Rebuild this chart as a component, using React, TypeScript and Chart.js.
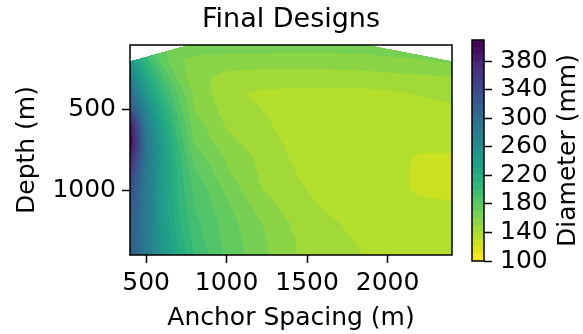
import React, { useEffect, useRef } from 'react';
import { Chart, registerables } from 'chart.js';
Chart.register(...registerables);

// ---- data ----
const spacings = [400, 500, 600, 700, 800, 1000, 1200, 1400, 1600, 1800, 2000, 2200, 2400];
const depths = [100, 200, 300, 400, 500, 600, 700, 800, 900, 1000, 1100, 1200, 1300, 1400];
const diameters = [
  [215, 190, 170, 165, 166, 167, 167, 166, 166, 166, 167, 168, 170],
  [245, 205, 175, 161, 157, 155, 154, 154, 154, 155, 157, 159, 162],
  [275, 225, 190, 167, 153, 147, 146, 146, 146, 146, 147, 148, 150],
  [305, 245, 205, 177, 158, 143, 138, 137, 137, 137, 138, 141, 143],
  [335, 265, 218, 185, 160, 146, 140.5, 135, 134, 134, 134, 136, 138],
  [390, 280, 230, 193, 165, 149, 143, 136, 134, 133.5, 133, 133, 134],
  [405, 290, 238, 200, 169, 153, 145, 138, 134, 132, 131.8, 131, 131],
  [380, 290, 242, 205, 176, 159, 148, 139.5, 134, 131.8, 131.2, 129.6, 129.5],
  [350, 285, 242, 207, 183, 161.5, 149.5, 141, 135, 132, 131.2, 129.4, 129],
  [335, 282, 240, 208, 188, 168, 151, 143, 137, 133, 131.3, 129.5, 129],
  [330, 282, 241, 210, 190, 172, 157, 145, 139.5, 135, 132.5, 131, 130.5],
  [325, 283, 243, 213, 193, 175, 161, 149.5, 142, 138, 134.5, 133, 132],
  [322, 284, 247, 217, 196, 176, 163, 151, 144, 139.5, 136, 134, 133],
  [320, 285, 250, 222, 200, 178, 164, 151, 145.5, 141, 137, 135, 134],
];
const topEdgeSpacing = [400, 760, 1880, 2400];
const topEdgeDepth = [200, 100, 100, 200];
const levels = [100, 110, 120, 130, 140, 150, 160, 170, 180, 190, 200, 210, 220, 230, 240, 250, 260, 270, 280, 290, 300, 310, 320, 330, 340, 350, 360, 370, 380, 390, 400, 410];
const xTicks = [500, 1000, 1500, 2000];
const yTicks = [500, 1000];
const cbTicks = [100, 140, 180, 220, 260, 300, 340, 380];

// ---- colormap (viridis anchors) ----
const vT = [0, 0.0625, 0.111, 0.125, 0.222, 0.25, 0.333, 0.375, 0.444, 0.5, 0.556, 0.625, 0.667, 0.75, 0.778, 0.875, 0.889, 0.9375, 1];
const vHex = ['#440154', '#471164', '#482878', '#472d7b', '#3e4989', '#3b528b', '#31688e', '#2c728e', '#26828e', '#21918c', '#1f9e89', '#28ae80', '#35b779', '#5ec962', '#6ece58', '#addc30', '#b5de2b', '#d8e219', '#fde725'];
const hexRgb = (h: string) => [parseInt(h.slice(1, 3), 16), parseInt(h.slice(3, 5), 16), parseInt(h.slice(5, 7), 16)];
const vRgb = vHex.map(hexRgb);
function viridis(t: number): number[] {
  t = Math.max(0, Math.min(1, t));
  let i = 0;
  while (i < vT.length - 2 && t > vT[i + 1]) i++;
  const f = (t - vT[i]) / (vT[i + 1] - vT[i]);
  return [0, 1, 2].map((k) => Math.round(vRgb[i][k] + (vRgb[i + 1][k] - vRgb[i][k]) * f));
}
const lo = levels[0], hi = levels[levels.length - 1];
const bandRgb = levels.slice(0, -1).map((l, i) => viridis(1 - ((l + levels[i + 1]) / 2 - lo) / (hi - lo)));
const bandCss = bandRgb.map((c) => `rgb(${c[0]},${c[1]},${c[2]})`);

function findIdx(arr: number[], v: number) {
  let i = 0;
  while (i < arr.length - 2 && v > arr[i + 1]) i++;
  return i;
}
function interp(s: number, d: number) {
  const i = findIdx(spacings, s), j = findIdx(depths, d);
  const fx = Math.max(0, Math.min(1, (s - spacings[i]) / (spacings[i + 1] - spacings[i])));
  const fy = Math.max(0, Math.min(1, (d - depths[j]) / (depths[j + 1] - depths[j])));
  const a = diameters[j][i], b = diameters[j][i + 1], c = diameters[j + 1][i], e = diameters[j + 1][i + 1];
  return (a * (1 - fx) + b * fx) * (1 - fy) + (c * (1 - fx) + e * fx) * fy;
}
function topEdge(s: number) {
  const i = findIdx(topEdgeSpacing, s);
  const f = (s - topEdgeSpacing[i]) / (topEdgeSpacing[i + 1] - topEdgeSpacing[i]);
  return topEdgeDepth[i] + (topEdgeDepth[i + 1] - topEdgeDepth[i]) * f;
}

const FONT = 'DejaVu Sans';

const contourPlugin = {
  id: 'contourFill',
  beforeDatasetsDraw(chart: any) {
    const { ctx, chartArea: a, scales } = chart;
    const xs = scales.x, ys = scales.y;
    const x0 = Math.round(a.left), y0 = Math.round(a.top);
    const w = Math.round(a.right) - x0, h = Math.round(a.bottom) - y0;
    const off = document.createElement('canvas');
    off.width = w; off.height = h;
    const octx = off.getContext('2d')!;
    const img = octx.createImageData(w, h);
    for (let py = 0; py < h; py++) {
      const d = ys.getValueForPixel(y0 + py + 0.5);
      for (let px = 0; px < w; px++) {
        const s = xs.getValueForPixel(x0 + px + 0.5);
        if (d < topEdge(s)) continue;
        const v = interp(s, d);
        let b = Math.floor((v - lo) / (levels[1] - levels[0]));
        b = Math.max(0, Math.min(bandRgb.length - 1, b));
        const c = bandRgb[b];
        const k = (py * w + px) * 4;
        img.data[k] = c[0]; img.data[k + 1] = c[1]; img.data[k + 2] = c[2]; img.data[k + 3] = 255;
      }
    }
    octx.putImageData(img, 0, 0);
    ctx.drawImage(off, x0, y0);
  },
};

const framePlugin = {
  id: 'frame',
  afterDraw(chart: any) {
    const { ctx, chartArea: a } = chart;
    ctx.save();
    ctx.strokeStyle = '#000';
    ctx.lineWidth = 1.5;
    ctx.strokeRect(a.left, a.top, a.right - a.left, a.bottom - a.top);
    ctx.restore();
  },
};

const titlePlugin = {
  id: 'centeredTitle',
  afterDraw(chart: any) {
    const { ctx, chartArea: a } = chart;
    ctx.save();
    ctx.fillStyle = '#000';
    ctx.font = `27px "${FONT}"`;
    ctx.textAlign = 'center';
    ctx.textBaseline = 'middle';
    ctx.fillText('Final Designs', (a.left + a.right) / 2, a.top - 25);
    ctx.restore();
  },
};

const cbLabelPlugin = {
  id: 'cbLabel',
  afterDraw(chart: any) {
    const { ctx, chartArea: a } = chart;
    ctx.save();
    ctx.fillStyle = '#000';
    ctx.font = `25px "${FONT}"`;
    ctx.translate(a.right + 91, (a.top + a.bottom) / 2);
    ctx.rotate(-Math.PI / 2);
    ctx.textAlign = 'center';
    ctx.textBaseline = 'alphabetic';
    ctx.fillText('Diameter (mm)', 0, 0);
    ctx.restore();
  },
};

export default function App() {
  const mainRef = useRef<HTMLCanvasElement>(null);
  const cbRef = useRef<HTMLCanvasElement>(null);
  useEffect(() => {
    const tickFont = { family: FONT, size: 25 };
    const gridOpts = { drawOnChartArea: false, drawTicks: true, tickLength: 8, tickColor: '#000', tickWidth: 1.5 };
    const main = new Chart(mainRef.current!, {
      type: 'scatter',
      data: { datasets: [{ data: [] }] },
      plugins: [contourPlugin, framePlugin, titlePlugin],
      options: {
        animation: false,
        responsive: false,
        layout: { padding: { left: 0, right: 131, top: 45, bottom: 0 } },
        plugins: {
          legend: { display: false },
          tooltip: { enabled: false },
          title: { display: false },
        },
        scales: {
          x: {
            type: 'linear', min: spacings[0], max: spacings[spacings.length - 1],
            afterFit: (s: any) => { s.height = 79; },
            afterBuildTicks: (s: any) => { s.ticks = xTicks.map((v) => ({ value: v })); },
            grid: gridOpts, border: { display: false },
            ticks: { font: tickFont, color: '#000', padding: 5, maxRotation: 0, autoSkip: false, callback: (v: any) => String(v) },
            title: { display: true, text: 'Anchor Spacing (m)', color: '#000', font: tickFont, padding: { top: 0, bottom: 1 } },
          },
          y: {
            type: 'linear', reverse: true, min: depths[0], max: depths[depths.length - 1],
            afterFit: (s: any) => { s.width = 130; },
            afterBuildTicks: (s: any) => { s.ticks = yTicks.map((v) => ({ value: v })); },
            grid: gridOpts, border: { display: false },
            ticks: { font: tickFont, color: '#000', padding: 6, autoSkip: false, callback: (v: any) => String(v) },
            title: { display: true, text: 'Depth (m)', color: '#000', font: tickFont, padding: { top: 12, bottom: 0 } },
          },
        },
      } as any,
    });
    const cb = new Chart(cbRef.current!, {
      type: 'bar',
      data: {
        labels: [''],
        datasets: bandCss.map((c, i) => ({
          data: [[levels[i], levels[i + 1]]],
          backgroundColor: c, borderWidth: 0,
          barPercentage: 1, categoryPercentage: 1, grouped: false,
        })) as any,
      },
      plugins: [framePlugin, cbLabelPlugin],
      options: {
        animation: false,
        responsive: false,
        layout: { padding: { left: 472, top: 40, bottom: 73, right: 0 } },
        plugins: { legend: { display: false }, tooltip: { enabled: false } },
        scales: {
          x: { display: false },
          y: {
            position: 'right', min: lo, max: hi,
            afterFit: (s: any) => { s.width = 99; },
            afterBuildTicks: (s: any) => { s.ticks = cbTicks.map((v) => ({ value: v })); },
            grid: gridOpts, border: { display: false },
            ticks: { font: tickFont, color: '#000', padding: 8, autoSkip: false, callback: (v: any) => String(v) },
          },
        },
      } as any,
    });
    return () => { main.destroy(); cb.destroy(); };
  }, []);
  const cs: React.CSSProperties = { position: 'absolute', left: 0, top: 0 };
  return (
    <div style={{ position: 'fixed', left: 0, top: 0, width: 583, height: 334, background: '#fff' }}>
      <canvas ref={mainRef} width={583} height={334} style={cs} />
      <canvas ref={cbRef} width={583} height={334} style={cs} />
    </div>
  );
}
